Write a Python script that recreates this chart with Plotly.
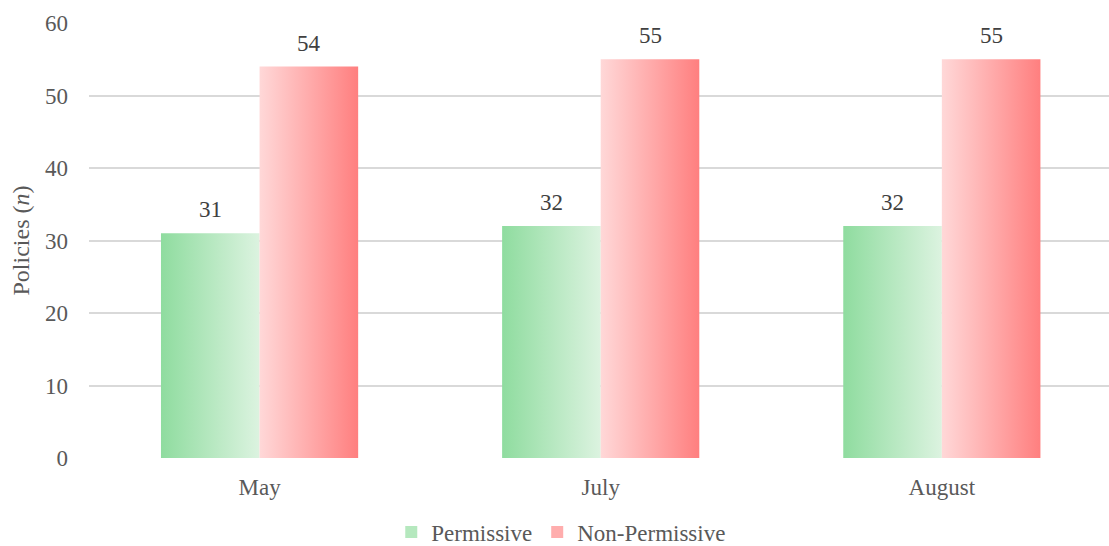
import plotly.graph_objects as go

months = ["May", "July", "August"]
permissive = [31, 32, 32]
non_permissive = [54, 55, 55]
series_names = ["Permissive", "Non-Permissive"]
y_ticks = [0, 10, 20, 30, 40, 50, 60]

GREEN = ["#8fdc9f", "#dcf3e0"]
RED = ["#ffd8d8", "#ff7f7f"]
HALF = 0.289
FONT = "Liberation Serif"

fig = go.Figure()

def add_bar(xc, left, value, colors):
    x0 = xc - HALF if left else xc
    x1 = xc if left else xc + HALF
    fig.add_trace(go.Scatter(
        x=[x0, x1, x1, x0, x0], y=[0, 0, value, value, 0],
        mode="lines", line=dict(width=0), fill="toself",
        fillgradient=dict(type="horizontal", colorscale=[[0, colors[0]], [1, colors[1]]]),
        showlegend=False, hoverinfo="skip"))
    fig.add_annotation(x=(x0 + x1) / 2, y=value, text=str(value), showarrow=False,
                       yanchor="bottom", yshift=9,
                       font=dict(family=FONT, size=23, color="#404040"))

for i, m in enumerate(months):
    add_bar(i, True, permissive[i], GREEN)
    add_bar(i, False, non_permissive[i], RED)

# legend entries
fig.add_trace(go.Bar(x=[None], y=[None], name=series_names[0],
                     marker=dict(color="#b5e8be", line=dict(width=0))))
fig.add_trace(go.Bar(x=[None], y=[None], name=series_names[1],
                     marker=dict(color="#ffadad", line=dict(width=0))))

fig.update_layout(
    width=1109, height=546,
    margin=dict(l=89, r=0, t=23, b=88, autoexpand=False),
    plot_bgcolor="white", paper_bgcolor="white",
    font=dict(family=FONT, size=23, color="#595959"),
    xaxis=dict(range=[-0.5, 2.49], tickvals=list(range(len(months))), ticktext=months,
               showgrid=False, zeroline=False, showline=False, ticks="",
               ticklabelstandoff=13, automargin=False,
               tickfont=dict(family=FONT, size=23, color="#595959")),
    yaxis=dict(range=[0, 60], tickvals=y_ticks, showgrid=True, gridcolor="#d9d9d9",
               gridwidth=1.5, zeroline=False, showline=False, ticks="",
               ticklabelstandoff=20, automargin=False,
               title=dict(text="Policies (<i>n</i>)", font=dict(family=FONT, size=24, color="#595959"), standoff=8),
               tickfont=dict(family=FONT, size=23, color="#595959")),
    legend=dict(orientation="h", x=0.463, xanchor="center", y=-0.170, yanchor="middle",
                font=dict(family=FONT, size=23, color="#595959"), itemwidth=30),
    showlegend=True,
)

fig.write_html("out.html")
